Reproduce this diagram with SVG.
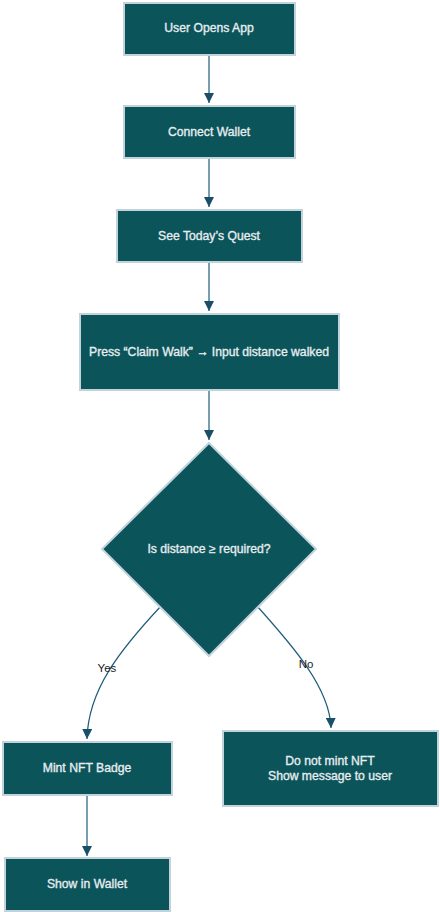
<svg xmlns="http://www.w3.org/2000/svg" width="440" height="912" viewBox="0 0 440 912">
<style>
.node rect,.node polygon{fill:#0b545a;stroke:#c3d3dd;stroke-width:2}
.node text{fill:#e6ecef;stroke:#e6ecef;stroke-width:0.35;font-family:"Liberation Sans",Arial,sans-serif;font-size:12.2px;text-anchor:middle;dominant-baseline:central}
.edge{fill:none;stroke:#1f5c7a;stroke-width:1.2}
.lbl{fill:#222;font-family:"Liberation Sans",Arial,sans-serif;font-size:11.5px;text-anchor:middle;dominant-baseline:central}
</style>
<defs>
<marker id="arr" viewBox="0 0 10 10" refX="10" refY="5" markerWidth="10" markerHeight="10" markerUnits="userSpaceOnUse" orient="auto">
<path d="M0,0 L10,5 L0,10 z" fill="#1a4f6a"/>
</marker>
</defs>
<rect width="440" height="912" fill="#fff"/>
<g id="edges">
<path class="edge" d="M209,55 V103" marker-end="url(#arr)"/>
<path class="edge" d="M209,158 V207" marker-end="url(#arr)"/>
<path class="edge" d="M209,262 V311" marker-end="url(#arr)"/>
<path class="edge" d="M209,390 V440" marker-end="url(#arr)"/>
<path class="edge" d="M161,606 C120,650 88,690 87,739" marker-end="url(#arr)"/>
<path class="edge" d="M257,606 C292,645 330,688 331,728" marker-end="url(#arr)"/>
<path class="edge" d="M87,795 V856" marker-end="url(#arr)"/>
<text class="lbl" x="107" y="668">Yes</text>
<text class="lbl" x="306" y="664">No</text>
</g>
<g id="n1" class="node"><rect x="124" y="3" width="171" height="52"/><text x="209" y="28">User Opens App</text></g>
<g id="n2" class="node"><rect x="124" y="106" width="171" height="52"/><text x="209" y="132">Connect Wallet</text></g>
<g id="n3" class="node"><rect x="117" y="210" width="185" height="52"/><text x="209" y="236">See Today’s Quest</text></g>
<g id="n4" class="node"><rect x="80" y="314" width="259" height="76"/><text x="209" y="352">Press “Claim Walk” → Input distance walked</text></g>
<g id="n5" class="node"><polygon points="209,443 316,549 209,656 102,549"/><text x="209" y="549">Is distance ≥ required?</text></g>
<g id="n6" class="node"><rect x="3" y="742" width="169" height="53"/><text x="87" y="768">Mint NFT Badge</text></g>
<g id="n7" class="node"><rect x="5" y="858" width="165" height="53"/><text x="87" y="884">Show in Wallet</text></g>
<g id="n8" class="node"><rect x="223" y="731" width="215" height="75"/><text x="330" y="761">Do not mint NFT</text><text x="330" y="776">Show message to user</text></g>
</svg>
